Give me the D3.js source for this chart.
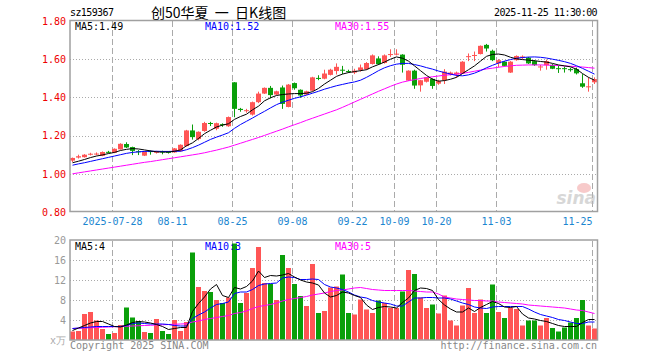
<!DOCTYPE html>
<html>
<head>
<meta charset="utf-8">
<script src="https://cdn.jsdelivr.net/npm/d3@7"></script>
<style>
body { margin: 0; background: #fff; }
text { font-family: "DejaVu Sans Mono", monospace; font-size: 10px; }
</style>
</head>
<body>
<svg id="canvas" width="660" height="360"></svg>
<script>
// trading days shown on the chart
let dates = ['2025-07-17','2025-07-18','2025-07-21','2025-07-22','2025-07-23','2025-07-24','2025-07-25','2025-07-28','2025-07-29','2025-07-30','2025-07-31',
  '2025-08-01','2025-08-04','2025-08-05','2025-08-06','2025-08-07','2025-08-08','2025-08-11','2025-08-12','2025-08-13','2025-08-14','2025-08-15','2025-08-18','2025-08-19','2025-08-20','2025-08-21','2025-08-22','2025-08-25','2025-08-26','2025-08-27','2025-08-28','2025-08-29',
  '2025-09-01','2025-09-02','2025-09-03','2025-09-04','2025-09-05','2025-09-08','2025-09-09','2025-09-10','2025-09-11','2025-09-12','2025-09-15','2025-09-16','2025-09-17','2025-09-18','2025-09-19','2025-09-22','2025-09-23','2025-09-24','2025-09-25','2025-09-26','2025-09-29','2025-09-30',
  '2025-10-09','2025-10-10','2025-10-13','2025-10-14','2025-10-15','2025-10-16','2025-10-17','2025-10-20','2025-10-21','2025-10-22','2025-10-23','2025-10-24','2025-10-27','2025-10-28','2025-10-29','2025-10-30','2025-10-31',
  '2025-11-03','2025-11-04','2025-11-05','2025-11-06','2025-11-07','2025-11-10','2025-11-11','2025-11-12','2025-11-13','2025-11-14','2025-11-17','2025-11-18','2025-11-19','2025-11-20','2025-11-21','2025-11-24','2025-11-25']

let open = [1.069,1.085,1.087,1.100,1.101,1.094,1.115,1.110,1.128,1.156,
  1.140,1.118,1.095,1.119,1.110,1.117,1.115,1.112,1.118,1.145,
  1.227,1.182,1.224,1.266,1.236,1.260,1.249,1.479,1.340,1.328,
  1.310,1.375,1.420,1.450,1.415,1.452,1.350,1.475,1.440,1.415,
  1.435,1.502,1.498,1.518,1.538,1.545,1.538,1.530,1.543,1.548,
  1.575,1.604,1.580,1.623,1.626,1.624,1.488,1.540,1.463,1.482,
  1.497,1.472,1.490,1.522,1.520,1.526,1.612,1.618,1.627,1.675,
  1.644,1.578,1.587,1.530,1.595,1.608,1.608,1.590,1.558,1.569,
  1.570,1.553,1.553,1.548,1.548,1.474,1.454,1.479]
let high = [1.085,1.100,1.103,1.110,1.112,1.117,1.120,1.133,1.160,1.165,
  1.142,1.124,1.118,1.122,1.120,1.121,1.118,1.135,1.154,1.230,
  1.258,1.222,1.272,1.272,1.268,1.264,1.300,1.480,1.345,1.340,
  1.378,1.430,1.452,1.460,1.435,1.462,1.470,1.478,1.442,1.435,
  1.508,1.516,1.545,1.550,1.578,1.565,1.545,1.550,1.572,1.585,
  1.625,1.615,1.625,1.652,1.652,1.626,1.542,1.545,1.492,1.507,
  1.500,1.492,1.548,1.535,1.535,1.590,1.630,1.640,1.672,1.680,
  1.650,1.600,1.590,1.590,1.620,1.620,1.612,1.595,1.570,1.598,
  1.575,1.565,1.562,1.555,1.556,1.522,1.505,1.505]
let low = [1.062,1.080,1.085,1.096,1.097,1.092,1.108,1.108,1.126,1.135,
  1.098,1.098,1.093,1.100,1.106,1.102,1.106,1.110,1.116,1.143,
  1.179,1.175,1.220,1.250,1.228,1.246,1.246,1.296,1.325,1.320,
  1.305,1.370,1.418,1.395,1.412,1.340,1.348,1.440,1.398,1.412,
  1.432,1.490,1.495,1.515,1.520,1.522,1.528,1.522,1.535,1.545,
  1.572,1.570,1.577,1.612,1.620,1.530,1.486,1.445,1.430,1.478,
  1.445,1.466,1.470,1.515,1.505,1.524,1.590,1.590,1.625,1.640,
  1.590,1.557,1.562,1.528,1.592,1.600,1.575,1.565,1.540,1.545,
  1.548,1.528,1.530,1.535,1.520,1.450,1.430,1.470]
let close = [1.083,1.092,1.100,1.105,1.106,1.114,1.112,1.131,1.157,1.138,
  1.120,1.114,1.116,1.115,1.117,1.113,1.111,1.133,1.152,1.227,
  1.192,1.220,1.266,1.261,1.265,1.255,1.297,1.340,1.334,1.333,
  1.375,1.420,1.450,1.412,1.432,1.366,1.467,1.448,1.410,1.432,
  1.505,1.499,1.525,1.545,1.560,1.540,1.535,1.540,1.557,1.580,
  1.620,1.574,1.620,1.627,1.629,1.571,1.540,1.462,1.490,1.505,
  1.460,1.485,1.535,1.530,1.530,1.587,1.616,1.622,1.670,1.656,
  1.595,1.595,1.565,1.587,1.617,1.614,1.578,1.569,1.562,1.590,
  1.550,1.550,1.550,1.545,1.526,1.456,1.458,1.496]

// moving averages as drawn on the chart
let ma5 = [1.058,1.066,1.075,1.085,1.093,1.099,1.106,1.112,1.122,1.128,
  1.132,1.130,1.125,1.120,1.115,1.114,1.114,1.118,1.125,1.147,
  1.162,1.185,1.210,1.228,1.245,1.255,1.262,1.285,1.300,1.312,
  1.335,1.354,1.382,1.398,1.410,1.415,1.418,1.420,1.420,1.422,
  1.430,1.447,1.470,1.490,1.510,1.522,1.530,1.535,1.540,1.545,
  1.560,1.572,1.585,1.600,1.612,1.605,1.590,1.565,1.540,1.515,
  1.495,1.485,1.488,1.495,1.505,1.525,1.545,1.565,1.590,1.615,
  1.625,1.627,1.622,1.610,1.602,1.598,1.595,1.592,1.588,1.585,
  1.578,1.570,1.565,1.560,1.548,1.525,1.505,1.490]
let ma10 = [1.045,1.052,1.058,1.065,1.072,1.079,1.086,1.093,1.100,1.107,
  1.112,1.115,1.117,1.118,1.118,1.117,1.117,1.118,1.118,1.126,
  1.137,1.150,1.165,1.180,1.192,1.203,1.215,1.238,1.258,1.275,
  1.292,1.310,1.327,1.345,1.362,1.375,1.385,1.395,1.403,1.412,
  1.422,1.432,1.443,1.452,1.461,1.468,1.475,1.481,1.490,1.505,
  1.522,1.540,1.555,1.566,1.574,1.578,1.578,1.572,1.565,1.556,
  1.548,1.538,1.530,1.522,1.515,1.513,1.518,1.527,1.540,1.555,
  1.568,1.580,1.590,1.598,1.605,1.609,1.611,1.612,1.610,1.606,
  1.600,1.594,1.587,1.578,1.566,1.552,1.537,1.522]
let ma30 = [1.000,1.005,1.010,1.015,1.020,1.025,1.030,1.035,1.040,1.045,
  1.050,1.055,1.060,1.064,1.069,1.074,1.079,1.084,1.089,1.094,
  1.099,1.104,1.110,1.117,1.124,1.132,1.140,1.150,1.160,1.170,
  1.180,1.190,1.201,1.212,1.223,1.234,1.246,1.257,1.268,1.280,
  1.291,1.302,1.313,1.324,1.335,1.348,1.362,1.376,1.390,1.404,
  1.418,1.432,1.445,1.458,1.470,1.480,1.487,1.493,1.499,1.504,
  1.508,1.512,1.516,1.519,1.522,1.526,1.531,1.537,1.543,1.549,
  1.553,1.558,1.562,1.565,1.568,1.569,1.570,1.570,1.570,1.569,
  1.568,1.567,1.565,1.563,1.561,1.559,1.556,1.553]

// volume (x万)
let volume = [1.7,1.8,5.2,5.6,3.9,2.2,1.2,1.4,3.0,6.5,
  4.5,3.8,1.6,1.4,4.2,1.8,1.2,4.0,1.8,3.6,
  17.5,10.6,9.8,9.6,8.0,7.4,8.5,19.3,7.4,9.4,
  14.4,18.6,11.4,11.2,8.0,17.0,14.4,11.2,8.8,6.8,
  15.2,5.4,5.8,10.5,10.7,13.1,5.4,5.1,8.1,6.1,
  5.4,7.9,7.4,6.4,6.4,9.7,14.0,13.2,8.5,6.4,
  7.1,5.3,8.9,3.9,2.9,6.9,10.4,5.4,8.1,5.4,
  11.1,5.6,4.4,6.4,6.2,2.9,3.9,3.9,2.9,4.4,
  2.4,1.7,2.5,3.5,4.4,8.0,2.9,2.3]
let volMa5 = [1.9,2.4,2.9,3.4,3.7,3.7,3.2,2.7,2.6,3.0,
  3.5,3.7,3.6,3.4,3.1,2.7,2.1,2.3,2.5,2.5,
  5.7,7.3,8.6,10.2,11.1,8.9,8.5,10.5,10.2,10.7,
  11.8,13.8,12.5,12.9,12.8,13.0,13.3,12.6,12.0,11.6,
  11.4,11.0,9.4,8.6,8.9,9.6,9.4,8.9,8.5,7.0,
  6.1,6.5,6.7,6.6,6.4,7.5,8.4,9.9,10.4,10.3,
  9.9,8.1,7.0,6.2,5.6,5.6,6.4,5.7,6.5,7.1,
  7.7,7.3,6.6,6.5,6.7,5.2,4.4,4.2,3.9,3.7,
  3.3,2.9,2.7,2.7,2.7,3.5,4.1,4.1]
let volMa10 = [2.3,2.4,2.5,2.6,2.7,2.7,2.7,2.7,2.7,2.9,
  3.3,3.4,3.3,3.2,3.2,3.2,3.1,2.9,2.8,2.8,
  4.3,5.0,5.6,6.4,7.1,7.3,7.6,9.3,9.6,9.6,
  10.1,10.9,11.2,11.3,11.4,12.4,12.6,12.5,12.1,12.1,
  12.2,12.1,11.1,10.6,10.4,10.1,9.6,9.0,8.6,8.4,
  7.9,7.6,7.4,7.2,6.8,6.8,7.6,8.4,8.4,8.5,
  8.5,8.4,8.4,8.2,7.8,7.4,7.1,6.6,6.4,6.3,
  6.6,6.7,6.7,6.7,6.7,6.7,6.2,5.6,5.1,4.8,
  4.5,4.1,3.9,3.6,3.3,3.3,3.6,3.6]
let volMa30 = [2.3,2.35,2.4,2.45,2.5,2.55,2.6,2.65,2.7,2.75,
  2.8,2.85,2.9,2.95,3.0,3.05,3.1,3.15,3.2,3.25,
  3.6,3.8,4.1,4.3,4.5,4.7,4.9,5.3,5.5,5.8,
  6.3,6.7,6.9,7.1,7.4,7.8,8.1,8.3,8.5,8.7,
  9.0,9.2,9.4,9.7,9.9,10.0,10.2,10.4,10.5,10.3,
  10.1,10.0,9.9,9.9,9.9,9.9,9.9,9.8,9.7,9.6,
  9.6,9.2,8.6,8.4,8.2,8.1,8.0,7.9,7.9,7.8,
  7.8,7.6,7.5,7.4,7.3,7.2,7.0,6.9,6.8,6.7,
  6.6,6.5,6.4,6.2,6.0,5.9,5.6,5.3]

// axis ticks
let tickDates = ['2025-07-28','2025-08-11','2025-08-25','2025-09-08','2025-09-22','2025-10-09','2025-10-20','2025-11-03','2025-11-25']
let tickLabels = ['2025-07-28','08-11','08-25','09-08','09-22','10-09','10-20','11-03','11-25']
let priceTicks = [0.80, 1.00, 1.20, 1.40, 1.60, 1.80]
let volTicks = [4, 8, 12, 16, 20]

let red = '#ff5555'
let green = '#0a9f0a'
let gridColor = '#aaaaaa'

let canvas = d3.select('#canvas')
canvas.append('rect').attr('width', 660).attr('height', 360).attr('fill', '#fff')

let x = d3.scaleBand().domain(dates).range([70, 598]).padding(0)
let yPrice = d3.scaleLinear().domain([0.8, 1.8]).range([212, 21])
let yVol = d3.scaleLinear().domain([0, 20]).range([340, 240])

// header
canvas.append('text').attr('x', 70).attr('y', 16).attr('font-size', 11).attr('letter-spacing', -0.6).text('sz159367')
canvas.append('text').attr('x', 151).attr('y', 18)
  .style('font-family', '"Noto Sans CJK SC", sans-serif').style('font-size', '14px')
  .style('white-space', 'pre')
  .text('创50华夏  一  日K线图')
canvas.append('text').attr('x', 597).attr('y', 16).attr('text-anchor', 'end').attr('font-size', 11)
  .attr('letter-spacing', -0.6).text('2025-11-25 11:30:00')

// grid lines
let drawGrid = (yScale, ticks, top, bottom) => {
  canvas.append('g').selectAll('line').data(ticks).enter().append('line')
    .attr('x1', 70).attr('x2', 597)
    .attr('y1', d => Math.round(yScale(d)) + 0.5).attr('y2', d => Math.round(yScale(d)) + 0.5)
    .attr('stroke', gridColor).attr('stroke-dasharray', '1,2')
  canvas.append('g').selectAll('line').data(tickDates).enter().append('line')
    .attr('x1', d => x(d) + 0.5).attr('x2', d => x(d) + 0.5)
    .attr('y1', top).attr('y2', bottom)
    .attr('stroke', gridColor).attr('stroke-dasharray', '6,3')
}
drawGrid(yPrice, [1.0, 1.2, 1.4, 1.6], 21, 211)
drawGrid(yVol, [4, 8, 12, 16], 241, 340)

// watermark
let mark = canvas.append('g').attr('opacity', 0.55)
mark.append('ellipse').attr('cx', 584).attr('cy', 188).attr('rx', 7).attr('ry', 5).attr('fill', '#f2a0a0')
mark.append('text').attr('x', 596).attr('y', 204).attr('text-anchor', 'end')
  .style('font-family', '"DejaVu Sans", sans-serif').style('font-size', '17px')
  .style('font-style', 'italic').style('font-weight', 'bold').attr('fill', '#b8b8b8').text('sina')

// candles
let candles = canvas.append('g').selectAll('g').data(dates).enter().append('g')
candles.append('line')
  .attr('x1', d => x(d) + 2.5).attr('x2', d => x(d) + 2.5)
  .attr('y1', (d, i) => yPrice(high[i])).attr('y2', (d, i) => yPrice(low[i]))
  .attr('stroke', (d, i) => close[i] >= open[i] ? red : green)
candles.append('rect')
  .attr('x', d => x(d)).attr('width', 5)
  .attr('y', (d, i) => yPrice(Math.max(open[i], close[i])))
  .attr('height', (d, i) => Math.max(1, Math.abs(yPrice(open[i]) - yPrice(close[i]))))
  .attr('fill', (d, i) => close[i] >= open[i] ? red : green)

// volume bars
canvas.append('g').selectAll('rect').data(dates).enter().append('rect')
  .attr('x', d => x(d)).attr('width', 5)
  .attr('y', (d, i) => yVol(volume[i]))
  .attr('height', (d, i) => yVol(0) - yVol(volume[i]))
  .attr('fill', (d, i) => close[i] >= open[i] ? red : green)

// moving average lines
let drawLine = (values, yScale, color) => {
  let line = d3.line().x((v, i) => x(dates[i]) + 2.5).y(v => yScale(v))
  canvas.append('path').datum(values).attr('d', line)
    .attr('fill', 'none').attr('stroke', color).attr('stroke-width', 1)
}
drawLine(ma30, yPrice, '#ff00ff')
drawLine(ma10, yPrice, '#0000ff')
drawLine(ma5, yPrice, '#000000')
drawLine(volMa30, yVol, '#ff00ff')
drawLine(volMa10, yVol, '#0000ff')
drawLine(volMa5, yVol, '#000000')

// panel frames
canvas.append('rect').attr('x', 70).attr('y', 20.5).attr('width', 527.5).attr('height', 191)
  .attr('fill', 'none').attr('stroke', '#a0a0a0').attr('stroke-width', 1.5)
canvas.append('rect').attr('x', 70).attr('y', 240).attr('width', 527.5).attr('height', 100)
  .attr('fill', 'none').attr('stroke', '#a0a0a0').attr('stroke-width', 1.5)

// axes
let priceAxis = canvas.append('g').attr('transform', 'translate(70,0)')
  .call(d3.axisLeft(yPrice).tickValues(priceTicks).tickFormat(d3.format('.2f')).tickSize(0).tickPadding(4))
priceAxis.select('.domain').remove()
priceAxis.selectAll('text').attr('fill', '#ee0000').style('font-family', '"DejaVu Sans Mono", monospace').style('font-size', '10px')

let volAxis = canvas.append('g').attr('transform', 'translate(70,0)')
  .call(d3.axisLeft(yVol).tickValues(volTicks).tickSize(0).tickPadding(4))
volAxis.select('.domain').remove()
volAxis.selectAll('text').attr('fill', '#999').style('font-family', '"DejaVu Sans Mono", monospace').style('font-size', '10px')

let dateAxis = canvas.append('g').attr('transform', 'translate(-2.5,212)')
  .call(d3.axisBottom(x).tickValues(tickDates).tickFormat((d, i) => tickLabels[i]).tickSize(0).tickPadding(6))
dateAxis.select('.domain').remove()
dateAxis.selectAll('text').attr('fill', '#1c86d0').style('font-family', '"DejaVu Sans Mono", monospace').style('font-size', '10px')
// last label sits inside the frame
dateAxis.selectAll('.tick').filter(d => d === tickDates[tickDates.length - 1])
  .select('text').attr('text-anchor', 'end')

canvas.append('text').attr('x', 66).attr('y', 344).attr('text-anchor', 'end').attr('fill', '#aaa').text('x万')

// legends
let legend = (y, items) => {
  canvas.append('g').selectAll('text').data(items).enter().append('text')
    .attr('x', (d, i) => 75 + i * 130).attr('y', y)
    .attr('fill', d => d[1]).text(d => d[0])
}
legend(30, [
  ['MA5:' + d3.format('.2f')(ma5[ma5.length - 1]), '#000'],
  ['MA10:' + d3.format('.2f')(ma10[ma10.length - 1]), '#0000ff'],
  ['MA30:' + d3.format('.2f')(ma30[ma30.length - 1]), '#ff00ff']
])
legend(250, [
  ['MA5:' + Math.floor(volMa5[volMa5.length - 1]), '#000'],
  ['MA10:' + Math.floor(volMa10[volMa10.length - 1]), '#0000ff'],
  ['MA30:' + Math.floor(volMa30[volMa30.length - 1]), '#ff00ff']
])

// footer
canvas.append('text').attr('x', 70).attr('y', 349).attr('fill', '#888').text('Copyright 2025 SINA.COM')
canvas.append('text').attr('x', 597).attr('y', 349).attr('text-anchor', 'end').attr('fill', '#888')
  .text('http://finance.sina.com.cn')
</script>
</body>
</html>
